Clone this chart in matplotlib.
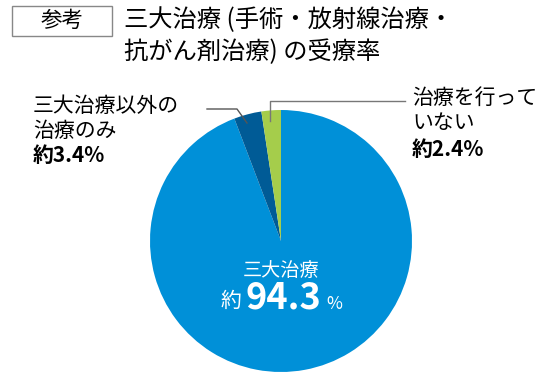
import matplotlib.pyplot as plt
from matplotlib.patches import Rectangle

plt.rcParams['font.family'] = ['Noto Sans CJK JP', 'DejaVu Sans']

# データ
labels = ['三大治療', '三大治療以外の治療のみ', '治療を行っていない']
shares = [94.3, 3.4, 2.4]
colors = ['#0090d8', '#005b96', '#a5cd4b']

fig = plt.figure(figsize=(5.6, 3.78), dpi=100)

# 円グラフ
ax = fig.add_axes([150 / 560, 6 / 378, 262 / 560, 262 / 378])
ax.pie(shares, colors=colors, startangle=90, counterclock=False,
       wedgeprops=dict(linewidth=0))
ax.set_xlim(-1, 1)
ax.set_ylim(-1, 1)
ax.set_aspect('equal')

# 文字と引き出し線（ピクセル座標）
ov = fig.add_axes([0, 0, 1, 1])
ov.set_xlim(0, 560)
ov.set_ylim(378, 0)
ov.axis('off')

ov.add_patch(Rectangle((12, 6), 100, 30, fill=False, edgecolor='#888888', linewidth=1))
ov.text(62, 21, '参考', ha='center', va='center', fontsize=15.5)
ov.text(124, 20, '三大治療 (手術・放射線治療・', ha='left', va='center', fontsize=17.5)
ov.text(124, 52, '抗がん剤治療) の受療率', ha='left', va='center', fontsize=17.5)

# 左ラベル
ov.text(33, 106, '三大治療以外の', ha='left', va='center', fontsize=15)
ov.text(33, 131, '治療のみ', ha='left', va='center', fontsize=15)
ov.text(33, 156, f'約{shares[1]}%', ha='left', va='center', fontsize=15, fontweight='bold')
ov.plot([207, 237, 247], [109, 109, 123], color='#555555', linewidth=1)

# 右ラベル
ov.text(412, 98, '治療を行って', ha='left', va='center', fontsize=15)
ov.text(412, 123, 'いない', ha='left', va='center', fontsize=15)
ov.text(412, 149, f'約{shares[2]}%', ha='left', va='center', fontsize=15, fontweight='bold')
ov.plot([270, 270, 405], [121, 101, 101], color='#777777', linewidth=1)

# 中央ラベル
ov.text(281, 271, labels[0], ha='center', va='center', fontsize=13.8, color='white')
ov.text(231, 301, '約', ha='center', va='center', fontsize=15, color='white')
ov.text(283, 298, f'{shares[0]}', ha='center', va='center', fontsize=26,
        fontweight='bold', color='white')
ov.text(334, 304, '%', ha='center', va='center', fontsize=12.5, color='white')

fig.savefig('out.png', dpi=100)
